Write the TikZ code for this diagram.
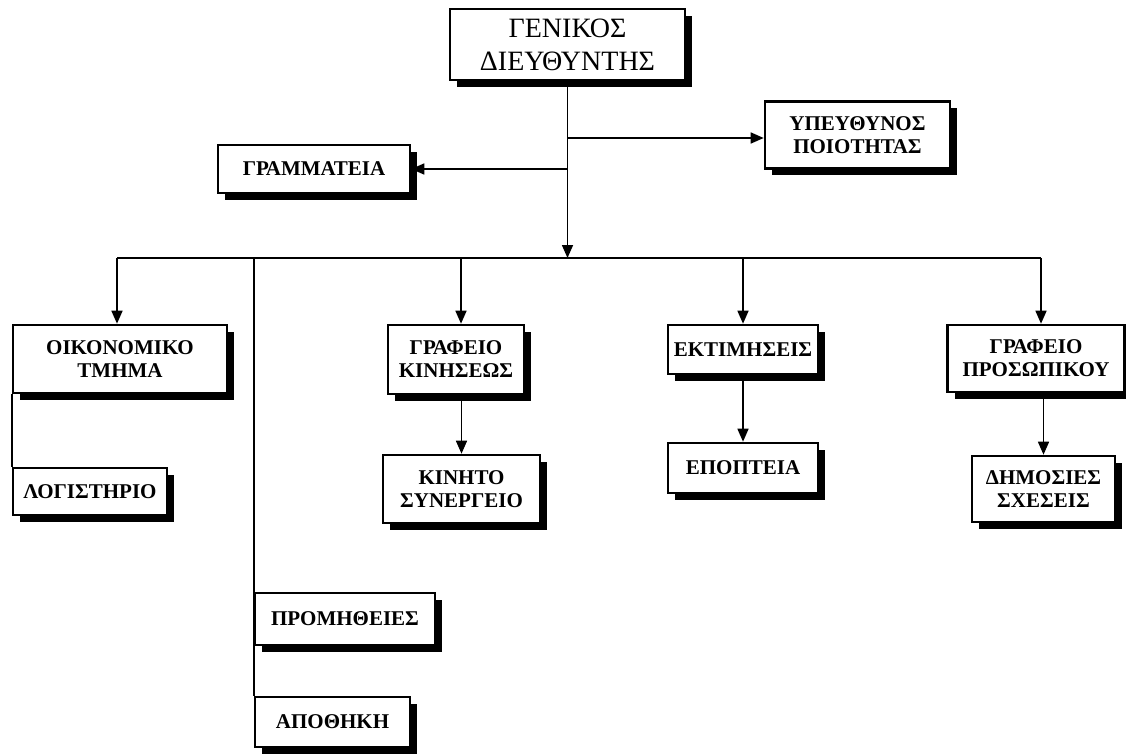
\documentclass[tikz,border=0pt]{standalone}
\usepackage{fontspec}
\setmainfont{Liberation Serif}
\usetikzlibrary{arrows.meta,shadows}
\tikzset{
  unit/.style={draw, line width=2.6pt, fill=white, align=center, inner sep=0pt,
    font=\fontsize{21}{23}\selectfont\bfseries,
    drop shadow={shadow xshift=7pt, shadow yshift=-7pt, fill=black, opacity=1}},
  head/.style={unit, font=\fontsize{28}{33}\selectfont\mdseries},
  link/.style={line width=1.6pt},
  arr/.style={link, -{Triangle[length=13pt,width=11pt]}},
}
\begin{document}
\begin{tikzpicture}[x=1pt,y=-1pt]
\useasboundingbox (0,0) rectangle (1126,754);

% director
\node[head, minimum width=235pt, minimum height=71pt] (gd) at (567.5,44.5) {ΓΕΝΙΚΟΣ\\ΔΙΕΥΘΥΝΤΗΣ};

% staff units beside the trunk
\node[unit, minimum width=185pt, minimum height=67pt] (qa) at (857.5,135) {ΥΠΕΥΘΥΝΟΣ\\ΠΟΙΟΤΗΤΑΣ};
\node[unit, minimum width=192pt, minimum height=48pt] (gr) at (314,169) {ΓΡΑΜΜΑΤΕΙΑ};

% departments
\node[unit, minimum width=214pt, minimum height=68pt] (ok) at (120,359) {ΟΙΚΟΝΟΜΙΚΟ\\ΤΜΗΜΑ};
\node[unit, minimum width=154pt, minimum height=47pt] (lo) at (90,491.5) {ΛΟΓΙΣΤΗΡΙΟ};
\node[unit, minimum width=136pt, minimum height=69pt] (gk) at (456,359.5) {ΓΡΑΦΕΙΟ\\ΚΙΝΗΣΕΩΣ};
\node[unit, minimum width=157pt, minimum height=68pt] (kn) at (461.5,489) {ΚΙΝΗΤΟ\\ΣΥΝΕΡΓΕΙΟ};
\node[unit, minimum width=150pt, minimum height=49pt] (ek) at (743,349.5) {ΕΚΤΙΜΗΣΕΙΣ};
\node[unit, minimum width=150pt, minimum height=50pt] (ep) at (743,468) {ΕΠΟΠΤΕΙΑ};
\node[unit, minimum width=177pt, minimum height=67pt] (gp) at (1036,358.5) {ΓΡΑΦΕΙΟ\\ΠΡΟΣΩΠΙΚΟΥ};
\node[unit, minimum width=143pt, minimum height=66pt] (ds) at (1043.5,489) {ΔΗΜΟΣΙΕΣ\\ΣΧΕΣΕΙΣ};
\node[unit, minimum width=180pt, minimum height=52pt] (pr) at (345,619) {ΠΡΟΜΗΘΕΙΕΣ};
\node[unit, minimum width=155pt, minimum height=50pt] (ap) at (332.5,722) {ΑΠΟΘΗΚΗ};

% trunk and bus
\coordinate (b) at (567.5,258);
\coordinate (jq) at (567.5,138);
\coordinate (jg) at (567.5,169);
\draw[arr] (gd.south) -- (b);
\draw[arr] (jq) -- (jq -| qa.west);
\draw[arr] (jg) -- (gr.east);
\draw[link] ([xshift=-3pt]ok.north |- b) -- ([xshift=5pt]gp.north |- b);

% drops from the bus
\draw[arr] ([xshift=-3pt]ok.north |- b) -- ([xshift=-3pt]ok.north);
\draw[link] (pr.north west |- b) -- (ap.north west);
\draw[arr] ([xshift=5pt]gk.north |- b) -- ([xshift=5pt]gk.north);
\draw[arr] (ek.north |- b) -- (ek.north);
\draw[arr] ([xshift=5pt]gp.north |- b) -- ([xshift=5pt]gp.north);

% second level
\draw[link] (ok.south west) -- (lo.north west);
\draw[arr] (kn.north |- gk.south) -- (kn.north);
\draw[arr] (ek.south) -- (ep.north);
\draw[arr] (ds.north |- gp.south) -- (ds.north);
\end{tikzpicture}
\end{document}
